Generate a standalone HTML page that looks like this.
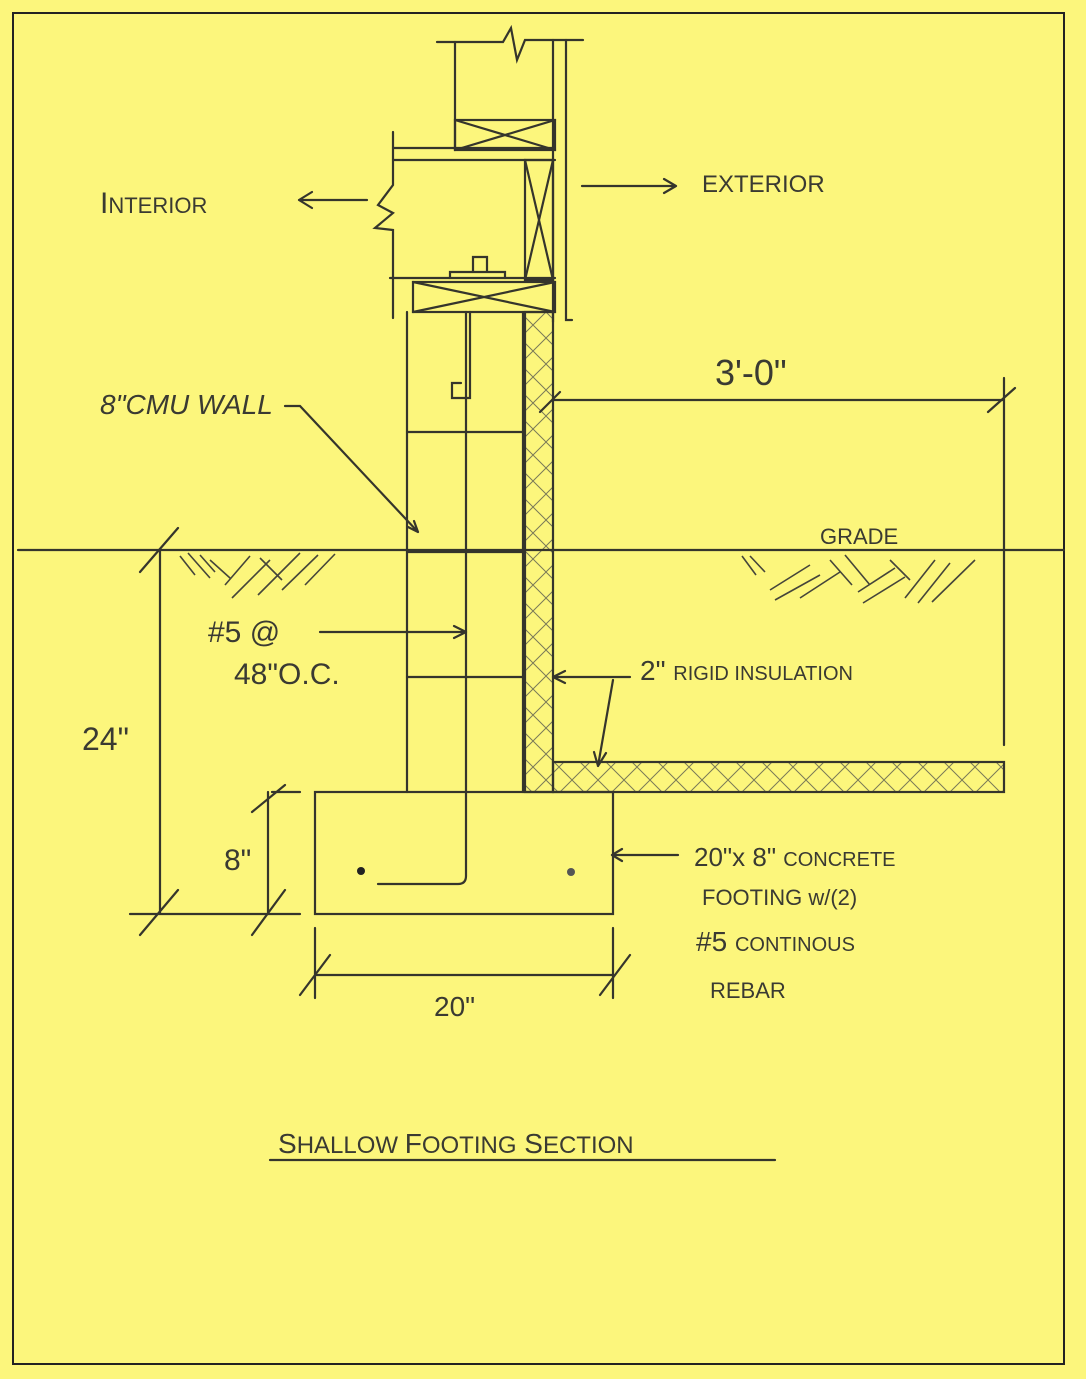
<!DOCTYPE html>
<html><head><meta charset="utf-8"><style>
html,body{margin:0;padding:0;background:#fcf67c;}
svg{display:block}
text{font-family:"Liberation Sans",sans-serif;fill:#3a3a32;}
</style></head><body>
<svg width="1086" height="1379" viewBox="0 0 1086 1379" xmlns="http://www.w3.org/2000/svg">
<defs>
<pattern id="xh" width="26" height="26" patternUnits="userSpaceOnUse">
<path d="M0 0L26 26M26 0L0 26" stroke="#7a7a58" stroke-width="1"/>
</pattern>
</defs>
<rect width="1086" height="1379" fill="#fcf67c"/>
<rect x="13" y="13" width="1051" height="1351" fill="none" stroke="#222" stroke-width="2"/>
<g stroke="#35352c" stroke-width="2.2" fill="none" stroke-linecap="round">
<path d="M437 42H503L511 28L517 60L525 40H583"/>
<path d="M455 42V150"/>
<path d="M553 40V322M566 40V320H572"/>
<rect x="455" y="120" width="100" height="30"/>
<path d="M455 150L555 120M455 120L555 150"/>
<path d="M393 148H555M393 160H555"/>
<path d="M393 132V185L378 205L393 213L375 228L393 230V318"/>
<rect x="525" y="160" width="28" height="120"/>
<path d="M525 160L553 280M553 160L525 280"/>
<path d="M390 278H555"/>
<rect x="413" y="282" width="142" height="30"/>
<path d="M413 282L555 312M413 312L555 282"/>
<path d="M450 278V272H505V278M473 272V257H487V272"/>
<path d="M407 312V792M523 312V792"/>
<path d="M407 432H523M407 552H523M407 677H523"/>
<path d="M470 312V398H452V383H461"/>
<path d="M466 312V876Q466 884 458 884H378"/>
<rect x="525" y="312" width="28" height="480" fill="url(#xh)"/>
<rect x="553" y="762" width="451" height="30" fill="url(#xh)"/>
<path d="M18 550H1064"/>
<rect x="315" y="792" width="298" height="122"/>
<path d="M160 550V914M130 914H300M140 935L178 890M140 572L178 528"/>
<path d="M268 792V914M272 792H300M252 812L285 785M252 935L285 890"/>
<path d="M315 928V998M613 928V998M315 975H613M300 995L330 955M600 995L630 955"/>
<path d="M1004 378V745M553 400H1004M540 412L560 392M988 412L1015 388"/>
<path d="M299 200H367M299 200L312 192M299 200L312 208"/>
<path d="M582 186H676M676 186L664 179M676 186L664 193"/>
<path d="M285 406H300L418 532M418 532L414 521M418 532L408 527"/>
<path d="M320 632H466M466 632L454 626M466 632L454 638"/>
<path d="M630 677H553M553 677L565 671M553 677L565 683M613 680L598 766M598 766L594 752M598 766L606 753"/>
<path d="M678 855H612M612 855L622 849M612 855L622 861"/>
<path d="M270 1160H775"/>
</g>
<g stroke="#45453a" stroke-width="1.6" fill="none">
<path d="M180 556L195 575M188 553L210 578M200 555L215 572M225 585L250 556M232 598L270 560M258 595L300 553M282 590L318 555M305 585L335 554M210 560L230 578M260 558L282 580"/>
<path d="M742 556L756 575M750 556L765 572M770 590L810 565M775 600L820 575M800 598L840 572M830 560L852 585M845 555L870 585M858 592L895 568M863 603L905 577M890 560L910 580M905 598L935 560M918 603L950 563M932 602L975 560"/>
</g>
<circle cx="361" cy="871" r="4" fill="#222"/>
<circle cx="571" cy="872" r="4" fill="#555"/>
<g font-size="26">
<text x="100" y="213" font-size="30">I<tspan font-size="22">NTERIOR</tspan></text>
<text x="702" y="192" font-size="24">EXTERIOR</text>
<text x="100" y="414" font-size="28" font-style="italic">8"CMU WALL</text>
<text x="715" y="385" font-size="36">3'-0"</text>
<text x="820" y="544" font-size="22">GRADE</text>
<text x="208" y="642" font-size="30">#5 @</text>
<text x="234" y="684" font-size="30">48"O.C.</text>
<text x="640" y="680" font-size="28">2" <tspan font-size="20">RIGID INSULATION</tspan></text>
<text x="82" y="750" font-size="32">24"</text>
<text x="224" y="870" font-size="30">8"</text>
<text x="434" y="1016" font-size="28">20"</text>
<text x="694" y="866" font-size="26">20"x 8" <tspan font-size="20">CONCRETE</tspan></text>
<text x="702" y="905" font-size="22">FOOTING  w/(2)</text>
<text x="696" y="951" font-size="28">#5 <tspan font-size="20">CONTINOUS</tspan></text>
<text x="710" y="998" font-size="22">REBAR</text>
<text x="278" y="1153" font-size="28">S<tspan font-size="24">HALLOW </tspan> F<tspan font-size="24">OOTING</tspan> S<tspan font-size="24">ECTION</tspan></text>
</g>
</svg>
</body></html>
